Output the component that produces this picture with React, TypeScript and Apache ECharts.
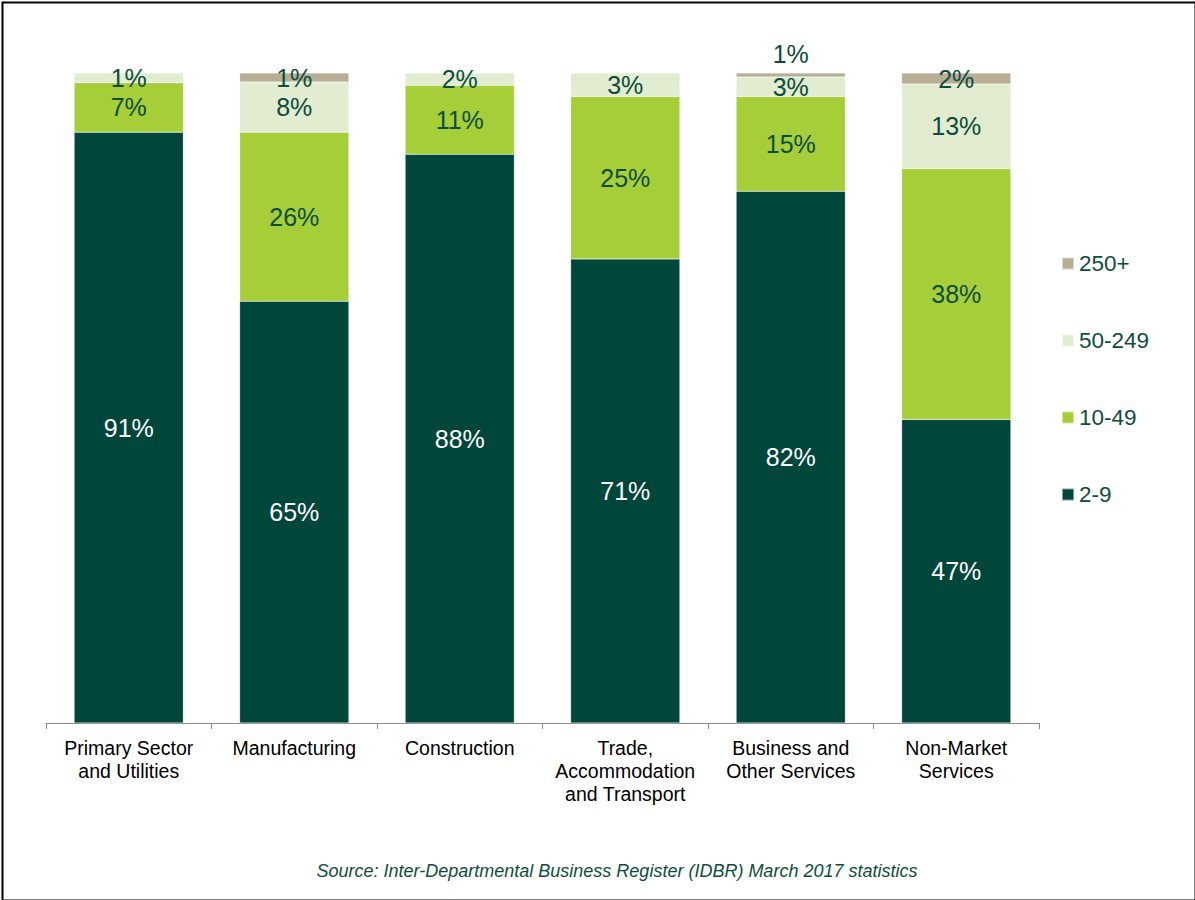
import React, { useEffect, useRef } from "react";
import * as echarts from "echarts";

const categories = [
  "Primary Sector\nand Utilities",
  "Manufacturing",
  "Construction",
  "Trade,\nAccommodation\nand Transport",
  "Business and\nOther Services",
  "Non-Market\nServices",
];
const seriesNames = ["2-9", "10-49", "50-249", "250+"];

const v2to9 = [90.9, 64.9, 87.5, 71.4, 81.8, 46.7];
const v10to49 = [7.6, 26.0, 10.6, 25.0, 14.6, 38.6];
const v50to249 = [1.5, 7.7, 1.9, 3.6, 3.0, 13.0];
const v250plus = [0.0, 1.4, 0.0, 0.0, 0.6, 1.7];

const l2to9 = ["91%", "65%", "88%", "71%", "82%", "47%"];
const l10to49 = ["7%", "26%", "11%", "25%", "15%", "38%"];
const l50to249 = ["1%", "8%", "2%", "3%", "3%", "13%"];
const l250plus = ["", "1%", "", "", "1%", "2%"];

const colors = ["#00463a", "#a6ce39", "#e1ecd0", "#b8ae96"];
const textGreen = "#0d4d3d";
const FONT = "'Liberation Sans', Arial, sans-serif";

export default function App() {
  const ref = useRef<HTMLDivElement>(null);
  useEffect(() => {
    document.body.style.margin = "0";
    if (!ref.current) return;
    const chart = echarts.init(ref.current, undefined, { renderer: "svg" });
    const values = [v2to9, v10to49, v50to249, v250plus];
    const labels = [l2to9, l10to49, l50to249, l250plus];
    const series = seriesNames.map((name, si) => ({
      name,
      type: "bar",
      stack: "total",
      barCategoryGap: "34%",
      itemStyle: { color: colors[si], borderColor: "rgba(255,255,255,0.5)", borderWidth: 0.5 },
      data: values[si].map((v, i) => {
        const lab = labels[si][i];
        const small = si === 3 && v < 1 && lab !== "";
        return {
          value: v,
          label: {
            show: lab !== "",
            position: small ? "top" : "inside",
            distance: small ? 7 : 5,
            formatter: () => lab,
            color: si === 0 ? "#ffffff" : textGreen,
            fontSize: 25,
            fontFamily: FONT,
          },
        };
      }),
    }));
    chart.setOption({
      animation: false,
      backgroundColor: "#ffffff",
      grid: { left: 46, right: 156, top: 73, bottom: 177 },
      legend: {
        orient: "vertical",
        left: 1061,
        top: 252,
        padding: 0,
        itemWidth: 12,
        itemHeight: 12,
        itemGap: 54,
        icon: "rect",
        data: ["250+", "50-249", "10-49", "2-9"],
        textStyle: {
          color: textGreen,
          fontSize: 22.5,
          lineHeight: 23,
          fontFamily: FONT,
          padding: 0,
        },
      },
      xAxis: {
        type: "category",
        data: categories,
        axisLine: { lineStyle: { color: "#8c8c8c", width: 1 } },
        axisTick: { show: true, length: 6, lineStyle: { color: "#8c8c8c" } },
        axisLabel: {
          color: "#000000",
          fontSize: 19.5,
          fontFamily: FONT,
          lineHeight: 23,
          margin: 13,
          interval: 0,
        },
      },
      yAxis: {
        type: "value",
        min: 0,
        max: 100,
        show: false,
        splitLine: { show: false },
      },
      graphic: [
        {
          type: "rect",
          left: 0,
          top: 0,
          shape: { width: 1193, height: 898 },
          style: { fill: "none", stroke: "#000000", lineWidth: 2 },
          silent: true,
        },
        {
          type: "text",
          x: 617,
          y: 871,
          style: {
            text: "Source: Inter-Departmental Business Register (IDBR) March 2017 statistics",
            fill: textGreen,
            font: `italic 18px ${FONT}`,
            align: "center",
            verticalAlign: "middle",
          },
        },
      ],
      series,
    });
    return () => chart.dispose();
  }, []);
  return <div ref={ref} style={{ width: 1195, height: 900 }} />;
}
